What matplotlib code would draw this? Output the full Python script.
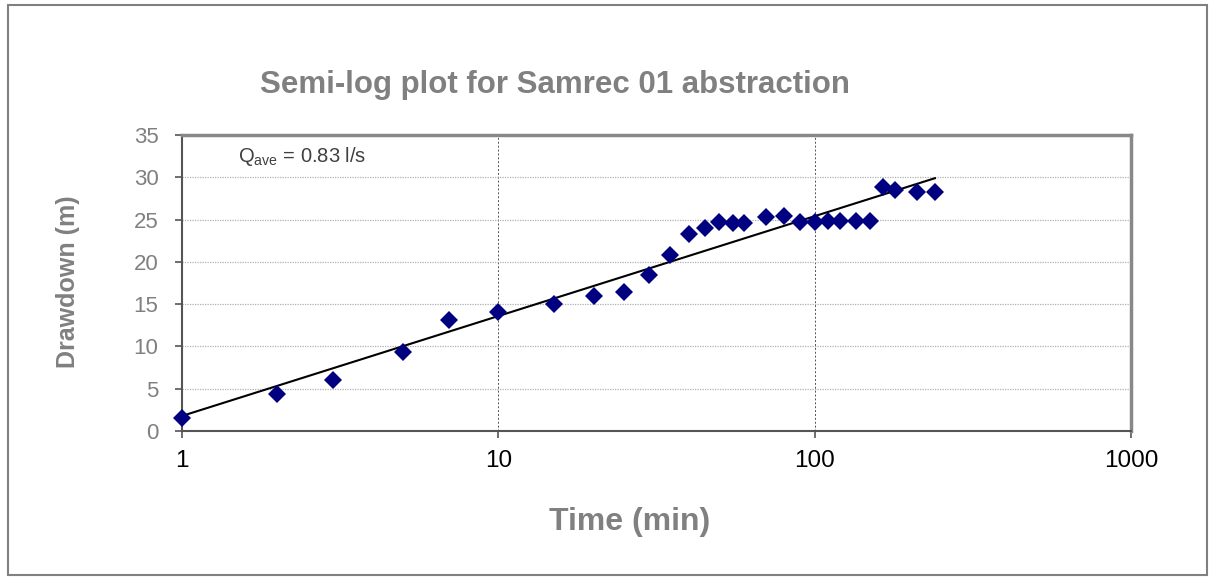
import matplotlib.pyplot as plt
import matplotlib.patches as patches
import numpy as np

plt.rcParams['font.family'] = ['Liberation Sans', 'DejaVu Sans']
plt.rcParams['mathtext.fontset'] = 'custom'
plt.rcParams['mathtext.rm'] = 'Liberation Sans'

time_min = [1, 2, 3, 5, 7, 10, 15, 20, 25, 30, 35, 40, 45, 50, 55, 60,
            70, 80, 90, 100, 110, 120, 135, 150, 165, 180, 210, 240]
drawdown = [1.5, 4.4, 6.0, 9.3, 13.1, 14.1, 15.0, 16.0, 16.4, 18.4, 20.8, 23.3,
            24.0, 24.7, 24.6, 24.6, 25.3, 25.4, 24.7, 24.7, 24.8, 24.8, 24.8, 24.8,
            28.9, 28.5, 28.3, 28.3]

x_ticks = [1, 10, 100, 1000]
y_ticks = [0, 5, 10, 15, 20, 25, 30, 35]

# log trendline, like excel
slope, intercept = np.polyfit(np.log10(time_min), drawdown, 1)
fit_x = np.array([min(time_min), max(time_min)])
fit_y = slope * np.log10(fit_x) + intercept

W, H = 1213, 580
fig = plt.figure(figsize=(W / 100, H / 100), dpi=100)
ax = fig.add_axes([182 / W, 1 - 431 / H, (1131 - 182) / W, (431 - 135) / H])

# outer chart border
fig.patches.append(patches.Rectangle((8 / W, 5 / H), 1199 / W, 570 / H,
                                     transform=fig.transFigure, fill=False,
                                     edgecolor='#808080', linewidth=1.5))

ax.set_xscale('log')
ax.set_xlim(1, 1000)
ax.set_ylim(0, 35)

ax.plot(fit_x, fit_y, color='black', linewidth=1.5, zorder=3)
ax.plot(time_min, drawdown, 'D', color='#000080', markersize=9,
        markeredgewidth=0, zorder=4, clip_on=False)

ax.set_xticks(x_ticks)
ax.set_xticklabels([str(t) for t in x_ticks])
ax.xaxis.set_minor_locator(plt.NullLocator())
ax.set_yticks(y_ticks)

ax.yaxis.grid(True, linestyle=(0, (1, 1)), color='#b0b0b0', linewidth=0.9)
ax.xaxis.grid(True, linestyle=(0, (2, 2)), color='#505050', linewidth=0.7)
ax.set_axisbelow(True)

ax.tick_params(axis='y', direction='out', length=5, width=1.2, color='#555555',
               labelsize=16, labelcolor='#808080', pad=12)
ax.tick_params(axis='x', direction='out', length=5, width=1.2, color='#555555',
               labelsize=17.5, labelcolor='black', pad=9)

for side in ['left', 'bottom']:
    ax.spines[side].set_color('#555555')
    ax.spines[side].set_linewidth(1.5)
for side in ['top', 'right']:
    ax.spines[side].set_color('#888888')
    ax.spines[side].set_linewidth(2.5)

fig.text(630 / W, 1 - 522 / H, 'Time (min)', fontsize=23, fontweight='bold',
         color='#808080', ha='center', va='center')
fig.text(68 / W, 1 - 282 / H, 'Drawdown (m)', fontsize=18, fontweight='bold',
         color='#808080', ha='center', va='center', rotation=90)

fig.text(555 / W, 1 - 85 / H, 'Semi-log plot for Samrec 01 abstraction',
         fontsize=22.5, fontweight='bold', color='#808080', ha='center', va='center')

fig.text(238 / W, 1 - 156 / H, r'Q$_{\mathrm{ave}}$ = 0.83 l/s',
         fontsize=14.5, color='#404040', ha='left', va='center')

fig.savefig('out.png', dpi=100)
